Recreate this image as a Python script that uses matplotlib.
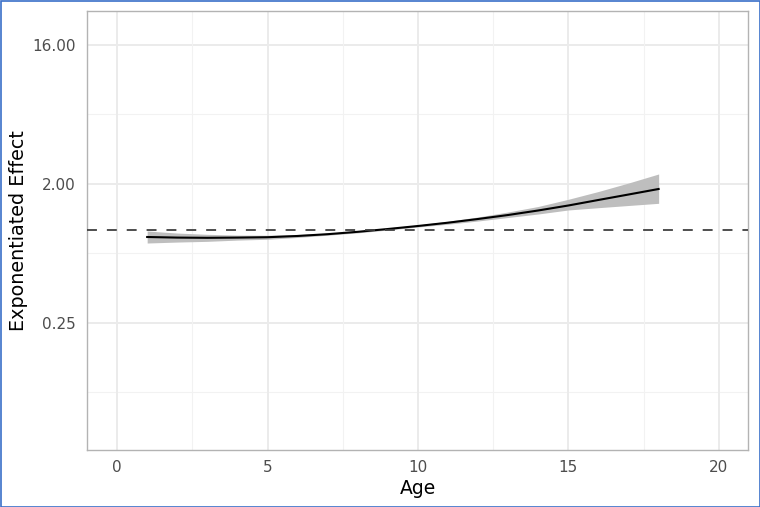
import matplotlib
matplotlib.use("Agg")
import matplotlib.pyplot as plt
from matplotlib.patches import Rectangle
import numpy as np

# Data
age = [1, 2, 3, 4, 5, 6, 7, 8, 9, 10, 11, 12, 13, 14, 15, 16, 17, 18]
effect = [0.905, 0.897, 0.894, 0.897, 0.902, 0.919, 0.944, 0.978, 1.020,
          1.067, 1.121, 1.185, 1.258, 1.346, 1.450, 1.575, 1.709, 1.856]
upper = [0.990, 0.960, 0.942, 0.931, 0.929, 0.940, 0.958, 0.993, 1.035,
         1.083, 1.146, 1.221, 1.316, 1.429, 1.591, 1.788, 2.030, 2.323]
lower = [0.827, 0.839, 0.848, 0.864, 0.875, 0.899, 0.930, 0.963, 1.005,
         1.051, 1.096, 1.150, 1.212, 1.277, 1.356, 1.403, 1.450, 1.498]
ref_line = 1.0
y_ticks = [0.25, 2.0, 16.0]
y_tick_labels = ["0.25", "2.00", "16.00"]
y_minor = [0.0884, 0.7071, 5.657]
x_ticks = [0, 5, 10, 15, 20]
x_minor = [2.5, 7.5, 12.5, 17.5]

fig = plt.figure(figsize=(7.6, 5.07), dpi=100)
ax = fig.add_axes([87/760, 1 - 450/507, (748-87)/760, (450-11)/507])

ax.set_yscale("log", base=2)
ax.set_xlim(-1.0, 20.97)
ax.set_ylim(0.0374, 26.6)

# grid
for v in y_ticks:
    ax.axhline(v, color="#ebebeb", lw=1.4, zorder=0)
for v in y_minor:
    ax.axhline(v, color="#f2f2f2", lw=0.8, zorder=0)
for v in x_ticks:
    ax.axvline(v, color="#ebebeb", lw=1.4, zorder=0)
for v in x_minor:
    ax.axvline(v, color="#f2f2f2", lw=0.8, zorder=0)

ax.fill_between(age, lower, upper, color="#bebebe", lw=0, zorder=2)
ax.plot(age, effect, color="black", lw=1.5, zorder=3)
ax.axhline(ref_line, color="#404040", lw=1.3, ls=(0, (5.5, 5.5)), zorder=4)

ax.set_yticks(y_ticks)
ax.set_yticklabels(y_tick_labels)
ax.yaxis.set_minor_locator(matplotlib.ticker.NullLocator())
ax.set_xticks(x_ticks)
ax.set_xticklabels([str(v) for v in x_ticks])
ax.tick_params(axis="both", length=0, labelsize=11, labelcolor="#4d4d4d")
ax.tick_params(axis="y", pad=8)
ax.tick_params(axis="x", pad=7)

for s in ax.spines.values():
    s.set_color("#b3b3b3")
    s.set_linewidth(1.0)

ax.set_xlabel("Age", fontsize=13.5, labelpad=3)
ax.set_ylabel("Exponentiated Effect", fontsize=13.8, labelpad=3)

fig.patches.append(Rectangle((0.5/760, 0.5/507), 759/760, 506/507, transform=fig.transFigure,
                             fill=False, edgecolor="#3a6fc8", lw=1.2))

fig.savefig("out.png", dpi=100)
